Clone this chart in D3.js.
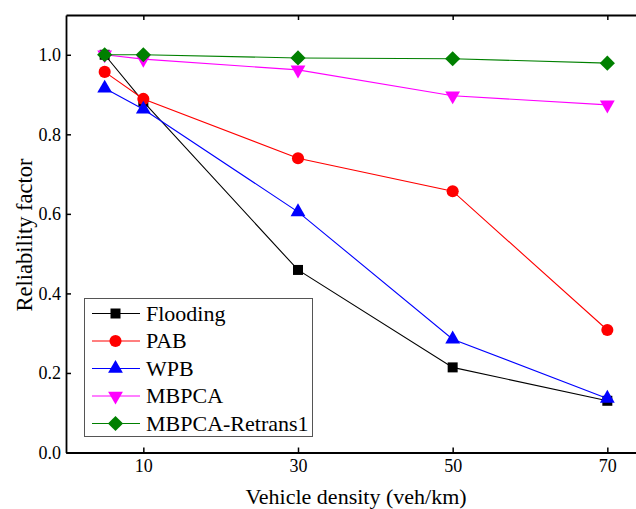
<!DOCTYPE html>
<html>
<head>
<meta charset="utf-8">
<script src="https://cdn.jsdelivr.net/npm/d3@7"></script>
<style>
  body { margin: 0; background: #fff; }
  svg { display: block; }
</style>
</head>
<body>
<svg id="chart" width="636" height="509"></svg>
<script>
// x values (veh/km) and series
var density = [5, 10, 30, 50, 70];
var xTicks = [10, 30, 50, 70];
var yTicks = [0, 0.2, 0.4, 0.6, 0.8, 1.0];

var flooding = [1.0, 0.882, 0.459, 0.214, 0.130];
var pab = [0.957, 0.889, 0.740, 0.657, 0.308];
var wpb = [0.916, 0.863, 0.605, 0.285, 0.136];
var mbpca = [1.0, 0.989, 0.962, 0.897, 0.874];
var retrans1 = [1.0, 1.0, 0.992, 0.990, 0.979];

var seriesNames = ['Flooding', 'PAB', 'WPB', 'MBPCA', 'MBPCA-Retrans1'];
var seriesValues = [flooding, pab, wpb, mbpca, retrans1];
var seriesColors = ['#000000', '#ff0000', '#0000ff', '#ff00ff', '#008000'];
var seriesMarkers = ['square', 'circle', 'triangle', 'triangleDown', 'diamond'];

var FONT = 'Liberation Serif, serif';

var svg = d3.select('#chart');

var x = d3.scaleLinear().domain([0, 75]).range([66, 646]);
var y = d3.scaleLinear().domain([0, 1.1]).range([452.5, 15]);

function markerPath(type) {
  var sym;
  if (type === 'square') sym = d3.symbol().type(d3.symbolSquare).size(100);
  else if (type === 'circle') sym = d3.symbol().type(d3.symbolCircle).size(115);
  else if (type === 'triangle' || type === 'triangleDown') sym = d3.symbol().type(d3.symbolTriangle).size(95);
  else sym = d3.symbol().type(d3.symbolSquare).size(115);
  return sym();
}

function markerTransform(type, px, py) {
  if (type === 'triangleDown') return 'translate(' + px + ',' + py + ') rotate(180)';
  if (type === 'diamond') return 'translate(' + px + ',' + py + ') rotate(45)';
  return 'translate(' + px + ',' + py + ')';
}

// series
var plot = svg.append('g').attr('class', 'plot');
var line = d3.line()
  .x(function(d) { return x(d[0]); })
  .y(function(d) { return y(d[1]); });

seriesValues.forEach(function(vals, i) {
  var pts = density.map(function(d, j) { return [d, vals[j]]; });
  var g = plot.append('g');
  g.append('path')
    .attr('d', line(pts))
    .attr('fill', 'none')
    .attr('stroke', seriesColors[i])
    .attr('stroke-width', 1.1);
  g.selectAll('path.mark')
    .data(pts)
    .enter().append('path')
    .attr('class', 'mark')
    .attr('d', markerPath(seriesMarkers[i]))
    .attr('transform', function(d) { return markerTransform(seriesMarkers[i], x(d[0]), y(d[1])); })
    .attr('fill', seriesColors[i]);
});

// axes
var axisBottomG = svg.append('g')
  .attr('transform', 'translate(0,' + y(0) + ')')
  .call(d3.axisBottom(x).tickValues(xTicks).tickSizeInner(-5).tickSizeOuter(0).tickPadding(7));
var axisTopG = svg.append('g')
  .attr('transform', 'translate(0,' + y(1.1) + ')')
  .call(d3.axisTop(x).tickValues(xTicks).tickSizeInner(-5).tickSizeOuter(0).tickFormat(''));
var axisLeftG = svg.append('g')
  .attr('transform', 'translate(' + x(0) + ',0)')
  .call(d3.axisLeft(y).tickValues(yTicks).tickSizeInner(-5).tickSizeOuter(0)
    .tickFormat(d3.format('.1f')).tickPadding(5));

[axisBottomG, axisTopG, axisLeftG].forEach(function(a) {
  a.attr('font-family', null).attr('font-size', 18);
  a.select('.domain').attr('stroke', '#000').attr('stroke-width', 1.8);
  a.selectAll('.tick line').attr('stroke', '#000').attr('stroke-width', 1.5);
  a.selectAll('.tick text')
    .style('font-family', FONT)
    .attr('font-size', 18)
    .attr('fill', '#000');
});

// axis titles
svg.append('text')
  .attr('x', 356)
  .attr('y', 504)
  .attr('text-anchor', 'middle')
  .style('font-family', FONT)
  .attr('font-size', 22)
  .text('Vehicle density (veh/km)');

svg.append('text')
  .attr('transform', 'translate(32,235) rotate(-90)')
  .attr('text-anchor', 'middle')
  .style('font-family', FONT)
  .attr('font-size', 22.5)
  .text('Reliability factor');

// legend
var legend = svg.append('g').attr('class', 'legend');
legend.append('rect')
  .attr('x', 84.5)
  .attr('y', 298.5)
  .attr('width', 228)
  .attr('height', 138)
  .attr('fill', '#fff')
  .attr('stroke', '#555')
  .attr('stroke-width', 1);

seriesNames.forEach(function(name, i) {
  var ly = 313.5 + i * 27.5;
  legend.append('line')
    .attr('x1', 92).attr('x2', 140)
    .attr('y1', ly).attr('y2', ly)
    .attr('stroke', seriesColors[i])
    .attr('stroke-width', 1.1);
  legend.append('path')
    .attr('d', markerPath(seriesMarkers[i]))
    .attr('transform', markerTransform(seriesMarkers[i], 115.5, ly))
    .attr('fill', seriesColors[i]);
  legend.append('text')
    .attr('x', 146)
    .attr('y', ly + 7)
    .style('font-family', FONT)
    .attr('font-size', 22)
    .text(name);
});
</script>
</body>
</html>
